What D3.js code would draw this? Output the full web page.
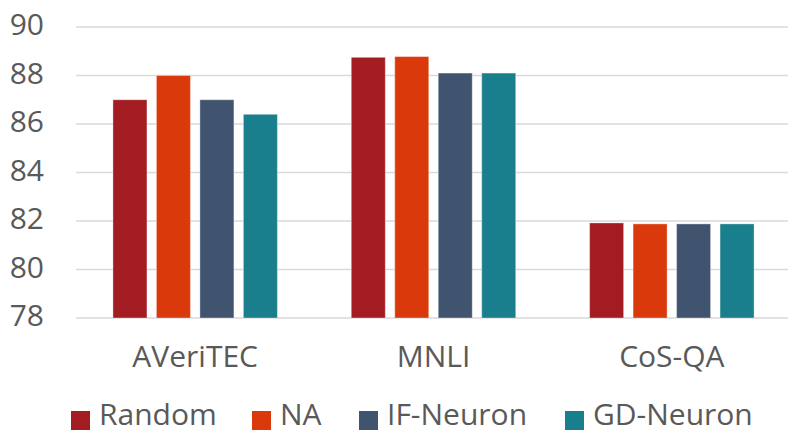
<!DOCTYPE html>
<html>
<head>
<meta charset="utf-8">
<script src="https://cdn.jsdelivr.net/npm/d3@7"></script>
<style>
  html, body { margin: 0; padding: 0; background: #fff; }
  svg { display: block; }
  text { font-family: "Open Sans", "Noto Sans", sans-serif; fill: #595959; }
</style>
</head>
<body>
<svg id="chart" width="788" height="434"></svg>
<script>
// Accuracy by dataset for each neuron-selection method
const categories = ["AVeriTEC", "MNLI", "CoS-QA"];
const seriesNames = ["Random", "NA", "IF-Neuron", "GD-Neuron"];
const randomValues = [87.0, 88.75, 81.92];
const naValues = [88.0, 88.78, 81.88];
const ifNeuronValues = [87.0, 88.1, 81.88];
const gdNeuronValues = [86.4, 88.1, 81.88];
const yTicks = [78, 80, 82, 84, 86, 88, 90];
const colors = ["#A21C21", "#DA3A0B", "#41546F", "#1A7F8C"];

const seriesValues = [randomValues, naValues, ifNeuronValues, gdNeuronValues];

const svg = d3.select("#chart");
const plot = { left: 76, right: 791, top: 27, bottom: 318 };
const fontSize = 30;

const y = d3.scaleLinear().domain([78, 90]).range([plot.bottom, plot.top]);
const x0 = d3.scaleBand().domain(categories).range([plot.left, plot.right])
  .paddingInner(0.31).paddingOuter(0.155);
const x1 = d3.scaleBand().domain(seriesNames).range([0, x0.bandwidth()])
  .paddingInner(0.218).paddingOuter(0);
const color = d3.scaleOrdinal().domain(seriesNames).range(colors);

// Horizontal gridlines
svg.append("g").selectAll("line").data(yTicks).join("line")
  .attr("x1", plot.left).attr("x2", 788)
  .attr("y1", d => y(d)).attr("y2", d => y(d))
  .attr("stroke", "#d9d9d9").attr("stroke-width", 1.5);

// Y axis labels
const yAxis = d3.axisLeft(y).tickValues(yTicks).tickSize(0).tickPadding(0);
const gy = svg.append("g").attr("transform", `translate(44,0)`).call(yAxis);
gy.select(".domain").remove();
gy.selectAll("text").attr("font-size", fontSize).attr("dy", "0.25em")
  .style("fill", "#595959").style("font-family", "'Open Sans', sans-serif");

// Bars
const groups = svg.append("g").selectAll("g").data(categories).join("g")
  .attr("transform", c => `translate(${x0(c)},0)`);
groups.selectAll("rect")
  .data((c, i) => seriesNames.map((s, j) => ({ s, v: seriesValues[j][i] })))
  .join("rect")
  .attr("x", d => x1(d.s))
  .attr("width", x1.bandwidth())
  .attr("y", d => y(d.v))
  .attr("height", d => y(78) - y(d.v))
  .attr("fill", d => color(d.s))
  .attr("stroke", "rgba(255,255,255,0.35)")
  .attr("stroke-width", 1);

// X axis labels
const xAxis = d3.axisBottom(x0).tickSize(0).tickPadding(0);
const gx = svg.append("g").call(xAxis);
gx.select(".domain").remove();
gx.selectAll("text").attr("font-size", fontSize).attr("y", 367).attr("dy", null)
  .style("fill", "#595959").style("font-family", "'Open Sans', sans-serif");

// Legend
const legendX = [71, 252, 359, 565];
const legend = svg.append("g").selectAll("g").data(seriesNames).join("g")
  .attr("transform", (d, i) => `translate(${legendX[i]},0)`);
legend.append("rect").attr("y", 411).attr("width", 19).attr("height", 19).attr("fill", d => color(d));
legend.append("text").attr("x", 28).attr("y", 425)
  .attr("font-size", fontSize).text(d => d);
</script>
</body>
</html>
